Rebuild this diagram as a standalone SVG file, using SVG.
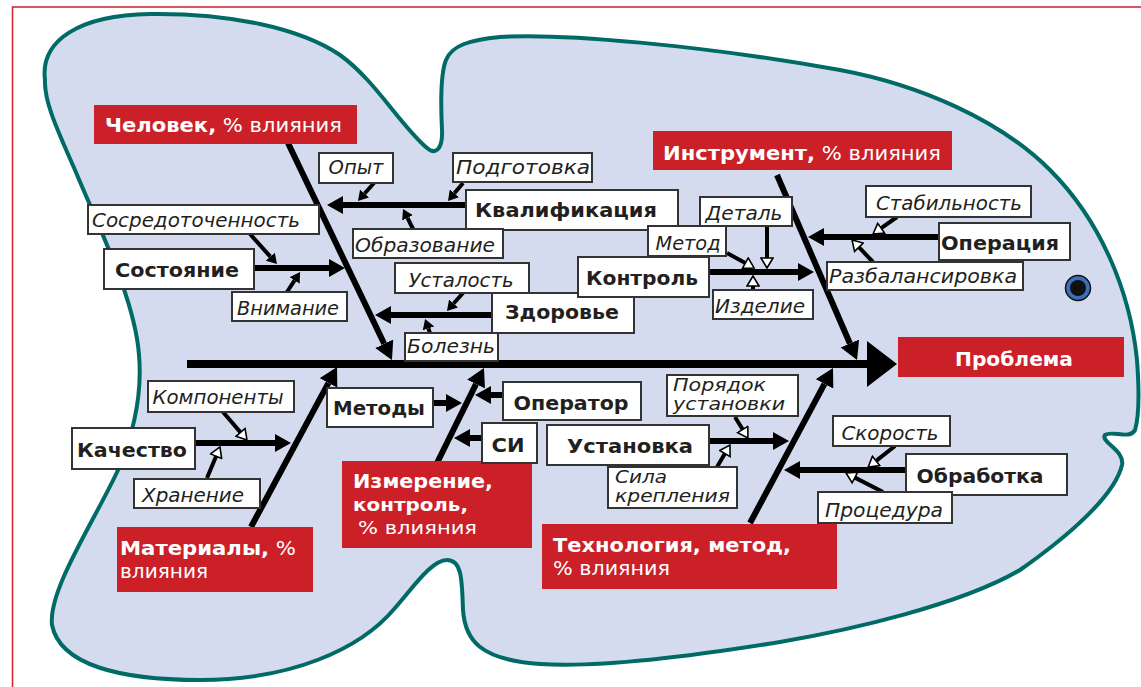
<svg xmlns="http://www.w3.org/2000/svg" width="1141" height="687" viewBox="0 0 1141 687">
<style>
.lab{font-family:"DejaVu Sans",sans-serif;font-style:italic;font-size:20px;fill:#231f20}
.lab2{font-family:"DejaVu Sans",sans-serif;font-style:italic;font-size:18px;fill:#231f20}
.bl{font-family:"DejaVu Sans",sans-serif;font-weight:bold;font-size:20px;fill:#231f20}
.rt{font-family:"DejaVu Sans",sans-serif;font-size:20px;fill:#fff}
.rt2{font-family:"DejaVu Sans",sans-serif;font-size:18.5px;fill:#fff}
.rt .b{font-weight:bold}
.box{fill:#fff;stroke:#333;stroke-width:2}
.red{fill:#cb2028}
.bone{stroke:#000;stroke-width:6;fill:none}
.sub{stroke:#000;stroke-width:6;fill:none}
.tw{stroke:#000;stroke-width:4;fill:none}
</style>
<defs>
<marker id="big" markerUnits="userSpaceOnUse" viewBox="0 0 18 20" markerWidth="18" markerHeight="20" refX="0" refY="10" orient="auto"><path d="M0,0 L18,10 L0,20 Z" fill="#000"/></marker>
<marker id="mid" markerUnits="userSpaceOnUse" viewBox="0 0 16 18" markerWidth="16" markerHeight="18" refX="0" refY="9" orient="auto"><path d="M0,0 L16,9 L0,18 Z" fill="#000"/></marker>
<marker id="sm" markerUnits="userSpaceOnUse" viewBox="0 0 10 12" markerWidth="10" markerHeight="12" refX="0" refY="6" orient="auto"><path d="M0,0 L10,6 L0,12 Z" fill="#000"/></marker>
<marker id="ho" markerUnits="userSpaceOnUse" viewBox="-1 -1 12 14" markerWidth="12" markerHeight="14" refX="0" refY="6" orient="auto"><path d="M0,0 L10,6 L0,12 Z" fill="#fff" stroke="#000" stroke-width="1.6"/></marker>
</defs>
<rect width="1141" height="687" fill="#fff"/>
<path d="M12.5,687 V7 H1141" fill="none" stroke="#d0202a" stroke-width="1.5"/>
<path id="fish" d="M45,80 C40,40 80,15 150,14 C230,13 300,28 340,55 C375,80 400,125 427,148 C435,155 443,150 442,130 C441,110 440,75 446,60 C452,45 470,40 500,37 C560,33 700,45 840,70 C920,85 1000,120 1050,170 C1100,220 1130,290 1137,360 C1140,400 1138,420 1135,430 C1130,440 1112,430 1105,435 C1100,442 1125,450 1122,465 C1115,495 1070,535 1020,570 C960,605 850,630 780,642 C700,655 600,668 540,664 C480,660 465,640 463,610 C462,580 462,560 447,560 C432,560 415,585 395,608 C360,650 290,680 200,680 C120,680 60,665 52,625 C48,590 95,520 118,470 C135,430 142,390 139,355 C135,300 100,230 75,170 C55,125 44,100 45,80 Z" fill="#d5dbee" stroke="#006a66" stroke-width="4"/>
<g id="eye"><circle cx="1078" cy="288" r="12.5" fill="#3d6fb8" stroke="#111" stroke-width="1.5"/><circle cx="1078" cy="288" r="8" fill="#111"/></g>

<g id="connectors">
<line x1="187" y1="364" x2="868" y2="364" stroke="#000" stroke-width="8"/>
<polygon points="867,341 897,364 867,387" fill="#000"/>
<line class="bone" x1="288" y1="143" x2="384.2" y2="343.8" marker-end="url(#big)"/>
<line class="bone" x1="777" y1="175" x2="849.9" y2="343.5" marker-end="url(#big)"/>
<line class="bone" x1="251" y1="527" x2="328.5" y2="382.9" marker-end="url(#big)"/>
<line class="bone" x1="437" y1="463" x2="476" y2="384.1" marker-end="url(#big)"/>
<line class="bone" x1="750" y1="523" x2="824.5" y2="383.9" marker-end="url(#big)"/>

<line class="sub" x1="466" y1="205" x2="343" y2="205" marker-end="url(#mid)"/>
<line class="sub" x1="254" y1="268" x2="329" y2="268" marker-end="url(#mid)"/>
<line class="sub" x1="492" y1="315" x2="391" y2="315" marker-end="url(#mid)"/>
<line class="sub" x1="939" y1="237" x2="824" y2="237" marker-end="url(#mid)"/>
<line class="sub" x1="709" y1="272" x2="798" y2="272" marker-end="url(#mid)"/>
<line class="sub" x1="195" y1="443" x2="275" y2="443" marker-end="url(#mid)"/>
<line class="sub" x1="433" y1="403" x2="446" y2="403" marker-end="url(#mid)"/>
<line class="sub" x1="503" y1="395" x2="491" y2="395" marker-end="url(#mid)"/>
<line class="sub" x1="482" y1="438" x2="470" y2="438" marker-end="url(#mid)"/>
<line class="sub" x1="709" y1="441" x2="773" y2="441" marker-end="url(#mid)"/>
<line class="sub" x1="906" y1="470" x2="800" y2="470" marker-end="url(#mid)"/>

<line class="tw" x1="374" y1="183" x2="364.6" y2="193.5" marker-end="url(#sm)"/>
<line class="tw" x1="463" y1="183" x2="454.4" y2="193.3" marker-end="url(#sm)"/>
<line class="tw" x1="413" y1="229" x2="407.5" y2="217.9" marker-end="url(#sm)"/>
<line class="tw" x1="250" y1="234" x2="270.3" y2="256.6" marker-end="url(#sm)"/>
<line class="tw" x1="287" y1="292" x2="294.6" y2="280.4" marker-end="url(#sm)"/>
<line class="tw" x1="463" y1="293" x2="453.6" y2="303.5" marker-end="url(#sm)"/>
<line class="tw" x1="430" y1="333" x2="428.4" y2="328.4" marker-end="url(#sm)"/>

<line class="tw" x1="897" y1="217" x2="881.2" y2="228.2" marker-end="url(#ho)"/>
<line class="tw" x1="873" y1="262" x2="858.9" y2="247.2" marker-end="url(#ho)"/>
<line class="tw" x1="767" y1="226" x2="767" y2="258" marker-end="url(#ho)"/>
<line class="tw" x1="727" y1="253" x2="745.3" y2="263.1" marker-end="url(#ho)"/>
<line class="tw" x1="753" y1="290" x2="753" y2="286" marker-end="url(#ho)"/>
<line class="tw" x1="223" y1="412" x2="240.5" y2="432.4" marker-end="url(#ho)"/>
<line class="tw" x1="207" y1="478" x2="216.1" y2="456.2" marker-end="url(#ho)"/>
<line class="tw" x1="735" y1="417" x2="742.7" y2="429.5" marker-end="url(#ho)"/>
<line class="tw" x1="717" y1="467" x2="724.9" y2="453.6" marker-end="url(#ho)"/>
<line class="tw" x1="895" y1="446" x2="876.1" y2="460.9" marker-end="url(#ho)"/>
<line class="tw" x1="883" y1="492" x2="854.9" y2="477.6" marker-end="url(#ho)"/>
</g>

<g id="n-chelovek"><rect class="red" x="94" y="105" width="263" height="39"/><text class="rt" x="105" y="132" textLength="237" lengthAdjust="spacingAndGlyphs"><tspan class="b">Человек,</tspan> % влияния</text></g>
<g id="n-instrument"><rect class="red" x="653" y="131" width="299" height="39"/><text class="rt" x="663" y="160" textLength="278" lengthAdjust="spacingAndGlyphs"><tspan class="b">Инструмент,</tspan> % влияния</text></g>
<g id="n-problema"><rect class="red" x="898" y="337" width="226" height="40"/><text class="rt" x="1014" y="366" text-anchor="middle" font-weight="bold" textLength="118" lengthAdjust="spacingAndGlyphs">Проблема</text></g>
<g id="n-materialy"><rect class="red" x="117" y="527" width="196" height="65"/><text class="rt" x="120" y="555" textLength="176" lengthAdjust="spacingAndGlyphs"><tspan class="b">Материалы,</tspan> %</text><text class="rt" x="120" y="578" textLength="88" lengthAdjust="spacingAndGlyphs">влияния</text></g>
<g id="n-izmerenie"><rect class="red" x="342" y="461" width="190" height="87"/><text class="rt" x="353" y="488" font-weight="bold" textLength="140" lengthAdjust="spacingAndGlyphs">Измерение,</text><text class="rt2" x="353" y="511" font-weight="bold" textLength="115" lengthAdjust="spacingAndGlyphs">контроль,</text><text class="rt2" x="358" y="534" textLength="119" lengthAdjust="spacingAndGlyphs">% влияния</text></g>
<g id="n-tehnologiya"><rect class="red" x="542" y="524" width="295" height="65"/><text class="rt" x="553" y="552" font-weight="bold" textLength="238" lengthAdjust="spacingAndGlyphs">Технология, метод,</text><text class="rt" x="553" y="575" textLength="117" lengthAdjust="spacingAndGlyphs">% влияния</text></g>

<g id="n-kvalifikaciya"><rect class="box" x="466" y="190" width="212" height="40"/><text class="bl" x="566" y="217" text-anchor="middle" textLength="182" lengthAdjust="spacingAndGlyphs">Квалификация</text></g>
<g id="n-sostoyanie"><rect class="box" x="104" y="249" width="150" height="40"/><text class="bl" x="177" y="277" text-anchor="middle" textLength="124" lengthAdjust="spacingAndGlyphs">Состояние</text></g>
<g id="n-zdorove"><rect class="box" x="492" y="293" width="142" height="40"/><text class="bl" x="562" y="319" text-anchor="middle" textLength="114" lengthAdjust="spacingAndGlyphs">Здоровье</text></g>
<g id="n-kontrol"><rect class="box" x="578" y="257" width="131" height="40"/><text class="bl" x="642" y="285" text-anchor="middle" textLength="112" lengthAdjust="spacingAndGlyphs">Контроль</text></g>
<g id="n-operaciya"><rect class="box" x="939" y="223" width="131" height="37"/><text class="bl" x="1000" y="250" text-anchor="middle" textLength="118" lengthAdjust="spacingAndGlyphs">Операция</text></g>
<g id="n-kachestvo"><rect class="box" x="72" y="428" width="123" height="41"/><text class="bl" x="132" y="457" text-anchor="middle" textLength="110" lengthAdjust="spacingAndGlyphs">Качество</text></g>
<g id="n-metody"><rect class="box" x="327" y="388" width="106" height="39"/><text class="bl" x="379" y="415" text-anchor="middle" textLength="92" lengthAdjust="spacingAndGlyphs">Методы</text></g>
<g id="n-operator"><rect class="box" x="503" y="382" width="138" height="38"/><text class="bl" x="571" y="410" text-anchor="middle" textLength="115" lengthAdjust="spacingAndGlyphs">Оператор</text></g>
<g id="n-si"><rect class="box" x="482" y="423" width="55" height="40"/><text class="bl" x="508" y="452" text-anchor="middle" textLength="33" lengthAdjust="spacingAndGlyphs">СИ</text></g>
<g id="n-ustanovka"><rect class="box" x="547" y="425" width="162" height="40"/><text class="bl" x="630" y="453" text-anchor="middle" textLength="126" lengthAdjust="spacingAndGlyphs">Установка</text></g>
<g id="n-obrabotka"><rect class="box" x="906" y="454" width="161" height="41"/><text class="bl" x="980" y="483" text-anchor="middle" textLength="127" lengthAdjust="spacingAndGlyphs">Обработка</text></g>

<g id="n-opyt"><rect class="box" x="319" y="153" width="74" height="30"/><text class="lab" x="356" y="174" text-anchor="middle" textLength="55" lengthAdjust="spacingAndGlyphs">Опыт</text></g>
<g id="n-podgotovka"><rect class="box" x="453" y="153" width="139" height="29"/><text class="lab" x="523" y="174" text-anchor="middle" textLength="134" lengthAdjust="spacingAndGlyphs">Подготовка</text></g>
<g id="n-sosredotochennost"><rect class="box" x="88" y="205" width="231" height="29"/><text class="lab" x="196" y="227" text-anchor="middle" textLength="208" lengthAdjust="spacingAndGlyphs">Сосредоточенность</text></g>
<g id="n-obrazovanie"><rect class="box" x="353" y="229" width="150" height="29"/><text class="lab" x="425" y="252" text-anchor="middle" textLength="140" lengthAdjust="spacingAndGlyphs">Образование</text></g>
<g id="n-vnimanie"><rect class="box" x="232" y="292" width="115" height="29"/><text class="lab" x="288" y="315" text-anchor="middle" textLength="102" lengthAdjust="spacingAndGlyphs">Внимание</text></g>
<g id="n-ustalost"><rect class="box" x="395" y="263" width="134" height="30"/><text class="lab" x="461" y="287" text-anchor="middle" textLength="105" lengthAdjust="spacingAndGlyphs">Усталость</text></g>
<g id="n-bolezn"><rect class="box" x="405" y="333" width="93" height="28"/><text class="lab" x="451" y="353" text-anchor="middle" textLength="88" lengthAdjust="spacingAndGlyphs">Болезнь</text></g>
<g id="n-detal"><rect class="box" x="700" y="197" width="92" height="29"/><text class="lab" x="744" y="220" text-anchor="middle" textLength="77" lengthAdjust="spacingAndGlyphs">Деталь</text></g>
<g id="n-metod"><rect class="box" x="648" y="226" width="78" height="30"/><text class="lab" x="688" y="250" text-anchor="middle" textLength="65" lengthAdjust="spacingAndGlyphs">Метод</text></g>
<g id="n-izdelie"><rect class="box" x="713" y="290" width="100" height="29"/><text class="lab" x="760" y="313" text-anchor="middle" textLength="90" lengthAdjust="spacingAndGlyphs">Изделие</text></g>
<g id="n-stabilnost"><rect class="box" x="866" y="186" width="165" height="31"/><text class="lab" x="949" y="210" text-anchor="middle" textLength="146" lengthAdjust="spacingAndGlyphs">Стабильность</text></g>
<g id="n-razbalansirovka"><rect class="box" x="827" y="262" width="196" height="28"/><text class="lab" x="923" y="283" text-anchor="middle" textLength="188" lengthAdjust="spacingAndGlyphs">Разбалансировка</text></g>
<g id="n-komponenty"><rect class="box" x="148" y="381" width="146" height="31"/><text class="lab" x="218" y="404" text-anchor="middle" textLength="131" lengthAdjust="spacingAndGlyphs">Компоненты</text></g>
<g id="n-hranenie"><rect class="box" x="134" y="479" width="126" height="29"/><text class="lab" x="193" y="502" text-anchor="middle" textLength="102" lengthAdjust="spacingAndGlyphs">Хранение</text></g>
<g id="n-poryadok"><rect class="box" x="667" y="375" width="131" height="41"/><text class="lab2" x="673" y="391" textLength="93" lengthAdjust="spacingAndGlyphs">Порядок</text><text class="lab2" x="673" y="410" textLength="112" lengthAdjust="spacingAndGlyphs">установки</text></g>
<g id="n-sila"><rect class="box" x="608" y="467" width="129" height="41"/><text class="lab2" x="615" y="483" textLength="52" lengthAdjust="spacingAndGlyphs">Сила</text><text class="lab2" x="615" y="502" textLength="115" lengthAdjust="spacingAndGlyphs">крепления</text></g>
<g id="n-skorost"><rect class="box" x="833" y="416" width="117" height="30"/><text class="lab" x="890" y="440" text-anchor="middle" textLength="97" lengthAdjust="spacingAndGlyphs">Скорость</text></g>
<g id="n-procedura"><rect class="box" x="818" y="492" width="134" height="31"/><text class="lab" x="884" y="517" text-anchor="middle" textLength="118" lengthAdjust="spacingAndGlyphs">Процедура</text></g>
</svg>
